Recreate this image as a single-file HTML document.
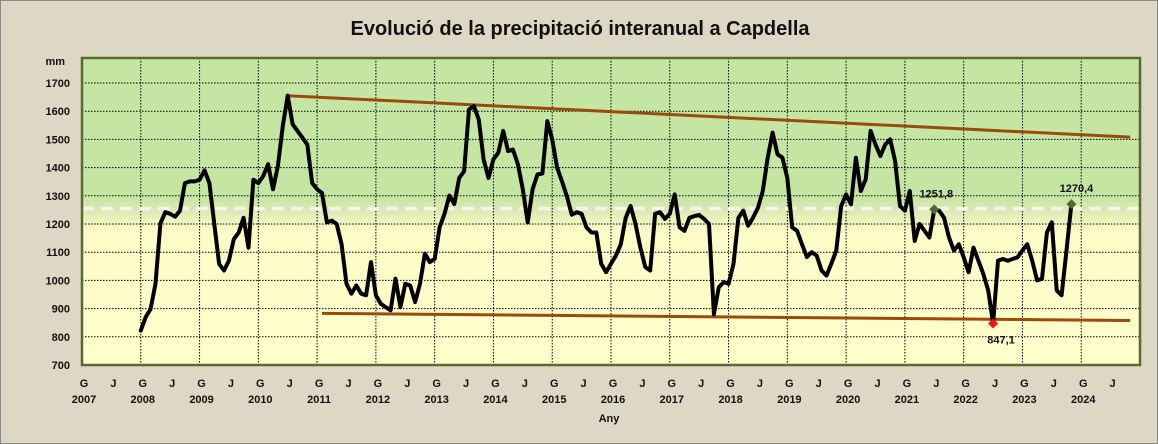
<!DOCTYPE html>
<html><head><meta charset="utf-8"><style>
html,body{margin:0;padding:0;background:#ddd8c5;}
#wrap{position:relative;width:1156px;height:442px;border:1px solid #8a8a8a;background:#ddd8c5;overflow:hidden;}
svg text{font-family:"Liberation Sans",sans-serif;font-weight:bold;fill:#111;}
</style></head><body>
<div id="wrap">
<svg id="chart" width="1158" height="444" viewBox="0 0 1158 444">
<defs>
<linearGradient id="bg" x1="0" y1="0" x2="0" y2="1">
<stop offset="0" stop-color="#c5e5a2"/><stop offset="0.45" stop-color="#c5e5a2"/>
<stop offset="0.50" stop-color="#dfe9b5"/><stop offset="0.56" stop-color="#fdfbc6"/><stop offset="1" stop-color="#ffffcc"/>
</linearGradient>
</defs>
<text x="579" y="34" text-anchor="middle" font-size="20">Evolució de la precipitació interanual a Capdella</text>
<g id="plot"></g>
</svg>
</div>
<script>
const yTicks=[700,800,900,1000,1100,1200,1300,1400,1500,1600,1700];
const years=[2007,2008,2009,2010,2011,2012,2013,2014,2015,2016,2017,2018,2019,2020,2021,2022,2023,2024];
const startYear=2008;
const values=[822,870,899,988,1202,1242,1236,1226,1247,1345,1351,1351,1357,1390,1345,1200,1059,1035,1070,1146,1170,1222,1116,1357,
1345,1370,1412,1323,1406,1548,1655,1554,1530,1506,1482,1345,1323,1310,1206,1212,1200,1128,988,953,982,953,947,1065,
947,917,905,894,1006,905,988,982,923,988,1095,1065,1076,1188,1236,1301,1271,1363,1387,1606,1618,1570,1429,1363,
1429,1453,1530,1459,1464,1412,1323,1206,1323,1376,1379,1565,1500,1400,1351,1298,1233,1242,1236,1188,1170,1170,
1059,1029,1059,1088,1128,1222,1264,1200,1116,1047,1035,1236,1242,1218,1236,1305,1188,1176,1222,1228,1232,1218,
1200,880,976,994,988,1059,1222,1247,1194,1222,1257,1317,1435,1524,1447,1435,1364,1188,1176,1128,1083,1100,1088,1035,
1017,1060,1106,1264,1305,1270,1435,1317,1358,1530,1482,1441,1482,1500,1423,1264,1247,1317,1140,1200,1176,1152,1251.8,1247,1222,
1152,1106,1128,1082,1029,1116,1070,1023,965,847.1,1070,1076,1070,1076,1082,1106,1128,1070,1000,1006,1170,1206,965,947,1106,1270.4];
const meanValue=1255;
const upperTrend=[1655,1508];
const lowerTrend=[883,858];
const upperTrendMonths=[30,202];
const lowerTrendMonths=[37,202];
const labelMax=values.indexOf(1251.8), labelMin=values.indexOf(847.1), labelLast=values.length-1;

const L=81,R=1139,T=57,B=364;
const yS=v=>B-(v-700)*0.282;
const yrW=(R-L)/18;
const xM=m=>L+yrW*(startYear-2007)+m*yrW/12;
const NS="http://www.w3.org/2000/svg";
const g=document.getElementById('plot');
function mk(t,a,txt){const e=document.createElementNS(NS,t);for(const k in a)e.setAttribute(k,a[k]);if(txt!==undefined)e.textContent=txt;g.appendChild(e);return e;}

let e=mk('rect',{x:L,y:T,width:R-L,height:B-T,fill:'url(#bg)'});


yTicks.forEach(v=>{
  if(v>700){const l=mk('line',{x1:L,x2:R,y1:yS(v),y2:yS(v),stroke:'#000','stroke-width':1,'stroke-dasharray':'1.5 1.5'});
  
  }
  const t=mk('text',{x:69,y:yS(v)+4,'text-anchor':'end','font-size':11},v);
  
  
});
e=mk('text',{x:64,y:64,'text-anchor':'end','font-size':11},'mm');


years.forEach((y,i)=>{
  const x=L+i*yrW;
  if(i>0){const l=mk('line',{x1:x,x2:x,y1:T,y2:B,stroke:'#000','stroke-width':1,'stroke-dasharray':'1.5 1.5'});
  
  }
  let t=mk('text',{x:x+2,y:386,'text-anchor':'middle','font-size':11},'G');
  
  
  t=mk('text',{x:x+yrW/2+2,y:386,'text-anchor':'middle','font-size':11},'J');
  
  
  t=mk('text',{x:x+2,y:402,'text-anchor':'middle','font-size':11},y);
  
  
});
e=mk('text',{x:608,y:421,'text-anchor':'middle','font-size':11},'Any');



e=mk('line',{x1:L,x2:R,y1:yS(meanValue),y2:yS(meanValue),stroke:'#f4f4ee','stroke-width':3.5,'stroke-dasharray':'12 7'});


e=mk('line',{x1:xM(upperTrendMonths[0]),x2:xM(upperTrendMonths[1]),y1:yS(upperTrend[0]),y2:yS(upperTrend[1]),stroke:'#9a4a0c','stroke-width':3});


e=mk('line',{x1:xM(lowerTrendMonths[0]),x2:xM(lowerTrendMonths[1]),y1:yS(lowerTrend[0]),y2:yS(lowerTrend[1]),stroke:'#9a4a0c','stroke-width':3});



let d='';values.forEach((v,i)=>{d+=(i?'L':'M')+xM(i).toFixed(1)+' '+yS(v).toFixed(1)+' ';});
e=mk('path',{d:d,fill:'none',stroke:'#000','stroke-width':4,'stroke-linejoin':'round','stroke-linecap':'round'});



function marker(m,color,name){if(m<0||values[m]===undefined)return;const x=xM(m),y=yS(values[m]);
  const p=mk('path',{d:`M${x} ${y-5}L${x+5} ${y}L${x} ${y+5}L${x-5} ${y}Z`,fill:color});
  
  }
marker(labelMax,'#4f6a2e','marker-1251');
marker(labelMin,'#ff1010','marker-min');
marker(labelLast,'#4f6a2e','marker-last');
function lbl(m,dx,dy,name){if(m<0||values[m]===undefined)return;
  const t=mk('text',{x:xM(m)+dx,y:yS(values[m])+dy,'text-anchor':'middle','font-size':11},values[m].toFixed(1).replace('.',','));
  
  }
lbl(labelMax,2,-12,'label-1251');
lbl(labelMin,8,20,'label-min');
lbl(labelLast,5,-12,'label-last');

e=mk('rect',{x:L,y:T,width:R-L,height:B-T,fill:'none',stroke:'#5a6a2e','stroke-width':2.5});


</script>
</body></html>
